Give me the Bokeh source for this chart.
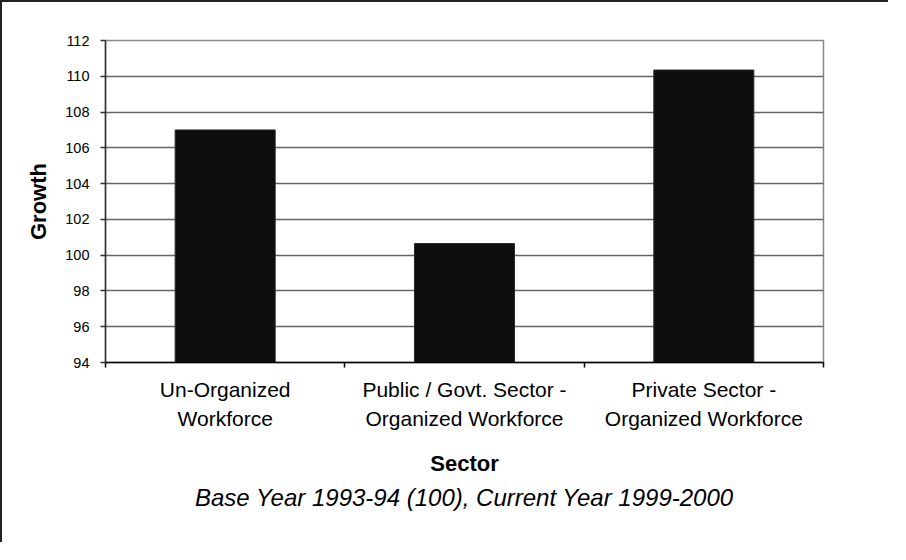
from bokeh.plotting import figure
from bokeh.models import FixedTicker, LinearAxis, Range1d, Title, ColumnDataSource, Grid
from bokeh.embed import file_html
from bokeh.resources import INLINE

categories = ["Un-Organized\nWorkforce",
              "Public / Govt. Sector -\nOrganized Workforce",
              "Private Sector -\nOrganized Workforce"]
growth = [107.0, 100.65, 110.35]
y_ticks = [94, 96, 98, 100, 102, 104, 106, 108, 110, 112]

x_pos = [i + 0.5 for i in range(len(categories))]
src = ColumnDataSource(dict(x=x_pos, top=growth))

FONT = "Liberation Sans"

p = figure(width=888, height=542, output_backend="svg", toolbar_location=None,
           x_range=Range1d(0, len(categories)), y_range=Range1d(94, 112),
           x_axis_location=None, y_axis_location=None,
           min_border_left=103, min_border_right=67, min_border_top=38, min_border_bottom=182)
p.styles = {"border-left": "2px solid #222", "border-top": "2px solid #222"}
p.outline_line_color = "#888888"
p.outline_line_width = 1.5
p.background_fill_color = "white"
p.border_fill_color = "white"

p.vbar(x="x", top="top", bottom=94, width=0.418, source=src,
       fill_color="#0d0d0d", line_color="#2a2a2a", line_width=1)

yaxis = LinearAxis(ticker=FixedTicker(ticks=y_ticks))
yaxis.axis_label = "Growth"
yaxis.axis_label_text_font = FONT
yaxis.axis_label_text_font_style = "bold"
yaxis.axis_label_text_font_size = "22px"
yaxis.axis_label_text_color = "black"
yaxis.axis_label_standoff = 11
yaxis.major_label_text_font = FONT
yaxis.major_label_text_font_size = "14.5px"
yaxis.major_label_text_color = "black"
yaxis.major_label_standoff = 11
yaxis.major_tick_in = 0
yaxis.major_tick_out = 5
yaxis.minor_tick_line_color = None
yaxis.axis_line_color = "#333333"
yaxis.axis_line_width = 1.5
yaxis.major_tick_line_color = "#333333"
yaxis.major_tick_line_width = 1.5
p.add_layout(yaxis, "left")

xaxis = LinearAxis(ticker=FixedTicker(ticks=x_pos, minor_ticks=[0, 1, 2, 3]))
xaxis.major_label_overrides = {x: c for x, c in zip(x_pos, categories)}
xaxis.major_tick_line_color = None
xaxis.major_tick_in = 0
xaxis.major_tick_out = 5
xaxis.minor_tick_in = 0
xaxis.minor_tick_out = 5
xaxis.minor_tick_line_color = "black"
xaxis.minor_tick_line_width = 1.5
xaxis.axis_line_color = "black"
xaxis.axis_line_width = 1.5
xaxis.major_label_text_font = FONT
xaxis.major_label_text_font_size = "21px"
xaxis.major_label_text_color = "black"
xaxis.major_label_text_line_height = 1.3
xaxis.major_label_standoff = 10
xaxis.axis_label = "Sector"
xaxis.axis_label_text_font = FONT
xaxis.axis_label_text_font_style = "bold"
xaxis.axis_label_text_font_size = "22px"
xaxis.axis_label_text_color = "black"
xaxis.axis_label_standoff = 18
p.add_layout(xaxis, "below")

sub = Title(text="Base Year 1993-94 (100), Current Year 1999-2000", align="center",
            text_font=FONT, text_font_style="italic", text_font_size="24px",
            text_color="black", standoff=4)
p.add_layout(sub, "below")

p.ygrid.visible = False
p.xgrid.visible = False
p.add_layout(Grid(dimension=1, ticker=yaxis.ticker, grid_line_color="#666666", grid_line_width=1.5))

open("out.html", "w").write(file_html(p, INLINE))
